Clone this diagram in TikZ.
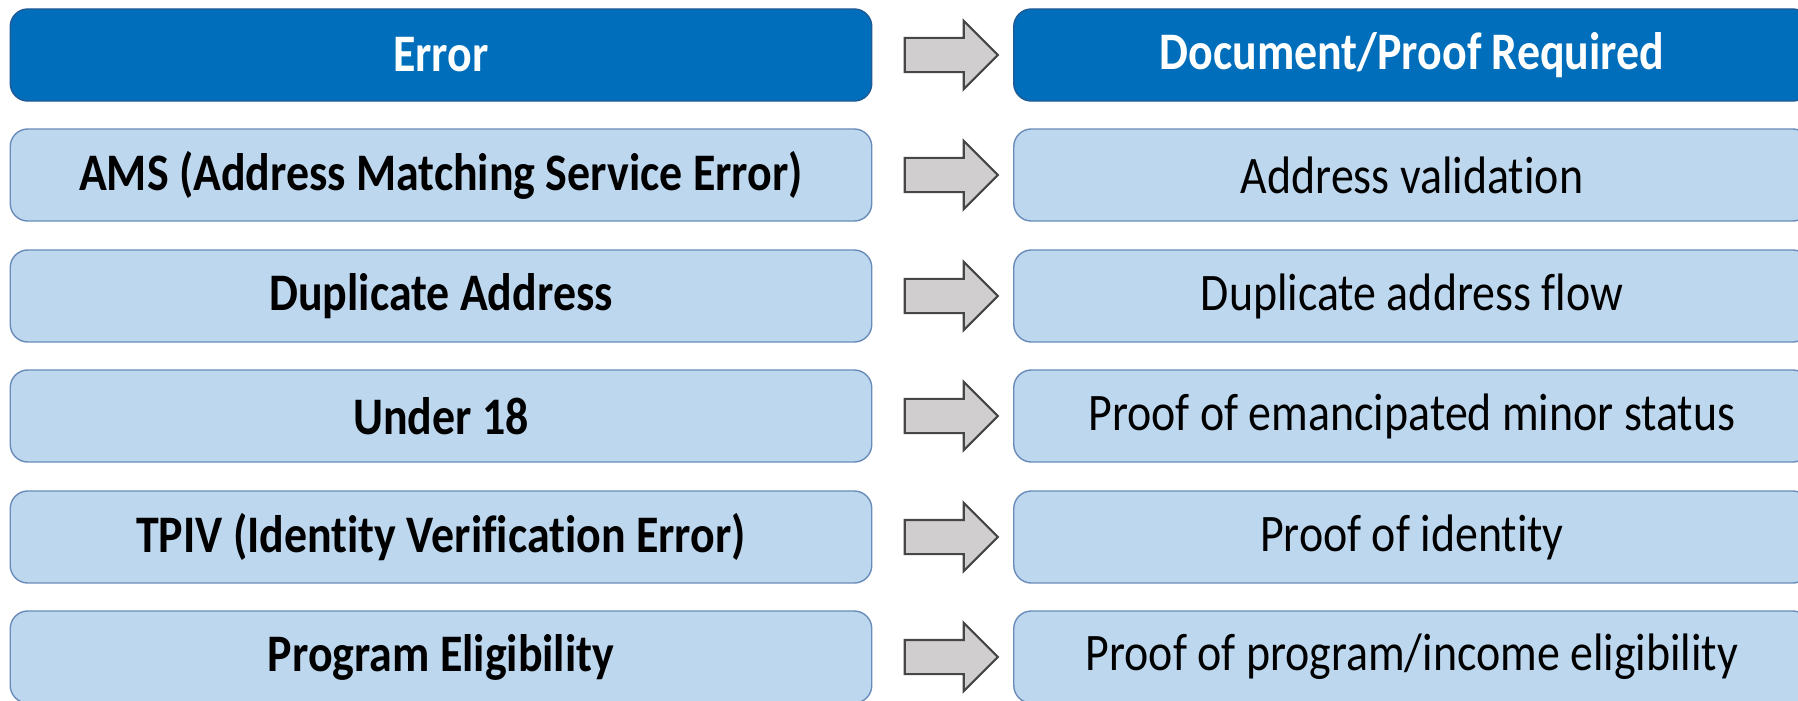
\documentclass[tikz,border=0pt]{standalone}
\usepackage{fontspec}
\setmainfont{Carlito}[Ligatures=NoCommon, FakeStretch=0.87]
\usetikzlibrary{shapes.arrows, calc}
\definecolor{hdrBlue}{RGB}{0,110,186}
\definecolor{hdrEdge}{RGB}{30,90,150}
\definecolor{rowBlue}{RGB}{189,215,238}
\definecolor{rowEdge}{RGB}{106,140,184}
\definecolor{arrGray}{RGB}{208,206,206}
\definecolor{arrEdge}{RGB}{70,70,70}

\begin{document}
\begin{tikzpicture}[
    x=0.01cm, y=-0.01cm,
    hdr/.style={draw=hdrEdge, fill=hdrBlue, rounded corners=5pt,
                minimum height=0.92cm, text=white,
                font=\bfseries\fontsize{15}{18}\selectfont},
    errbox/.style={draw=rowEdge, fill=rowBlue, rounded corners=5pt,
                   minimum width=8.61cm, minimum height=0.92cm,
                   font=\bfseries\fontsize{15}{18}\selectfont},
    docbox/.style={draw=rowEdge, fill=rowBlue, rounded corners=5pt,
                   minimum width=7.96cm, minimum height=0.92cm,
                   font=\fontsize{15}{18}\selectfont},
    blockarrow/.style={single arrow, draw=arrEdge, fill=arrGray,
                       line width=0.6pt, minimum height=0.93cm,
                       single arrow head extend=0.17cm,
                       inner xsep=0pt, inner ysep=0.16cm}
]
\useasboundingbox (0,0) rectangle (1798,700);
\clip (0,0) rectangle (1798,700);

% LEFT --- errors
\node[hdr, minimum width=8.61cm] (eh) at (441,55) {Error};
\node[errbox] (e1) at (441,175) {AMS (Address Matching Service Error)};
\node[errbox] (e2) at (441,296) {Duplicate Address};
\node[errbox] (e3) at (441,416) {Under 18};
\node[errbox] (e4) at (441,537) {TPIV (Identity Verification Error)};
\node[errbox] (e5) at (441,657) {Program Eligibility};

% RIGHT --- what the user has to send
\node[hdr, minimum width=7.96cm] (ph) at (1412,55) {Document/Proof Required};
\node[docbox] (p1) at (1412,175) {Address validation};
\node[docbox] (p2) at (1412,296) {Duplicate address flow};
\node[docbox] (p3) at (1412,416) {Proof of emancipated minor status};
\node[docbox] (p4) at (1412,537) {Proof of identity};
\node[docbox] (p5) at (1412,657) {Proof of program/income eligibility};

% block arrows in the gap
\node[blockarrow] (ah) at ($(eh.east)!0.5!(ph.west)$) {};
\foreach \i in {1,...,5}
  \node[blockarrow] (a\i) at ($(e\i.east)!0.5!(p\i.west)$) {};

\end{tikzpicture}
\end{document}
